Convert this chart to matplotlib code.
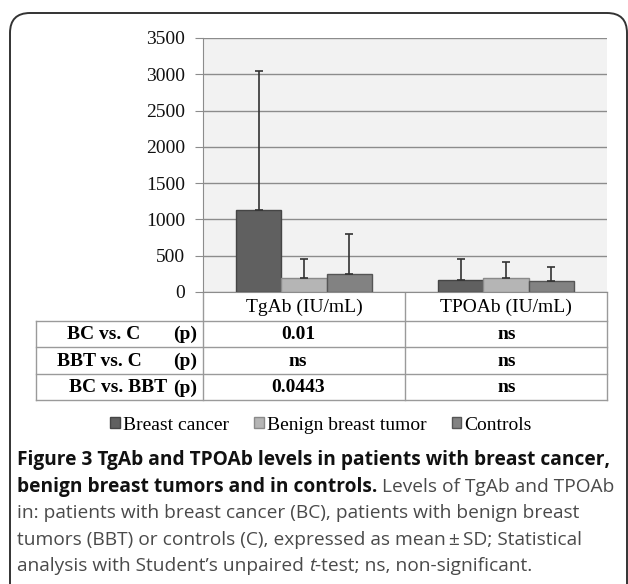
import numpy as np
import matplotlib
matplotlib.use("Agg")
import matplotlib.pyplot as plt
from matplotlib.patches import FancyBboxPatch, Patch

categories = ["TgAb (IU/mL)", "TPOAb (IU/mL)"]
groups = ["Breast cancer", "Benign breast tumor", "Controls"]
means = {
    "Breast cancer": [1125, 160],
    "Benign breast tumor": [195, 195],
    "Controls": [245, 145],
}
sds = {
    "Breast cancer": [1915, 300],
    "Benign breast tumor": [265, 218],
    "Controls": [558, 200],
}
row_labels = ["BC vs. C", "BBT vs. C", "BC vs. BBT"]
p_tgab = ["0.01", "ns", "0.0443"]
p_tpoab = ["ns", "ns", "ns"]

colors = ["#606060", "#b5b5b5", "#828282"]
edges = ["#454545", "#8a8a8a", "#555555"]

W, H = 628, 584
fig = plt.figure(figsize=(W / 100, H / 100), dpi=100)
serif = "Liberation Serif"
sans = "Open Sans"

# overlay in pixel coords for box, table, caption
ov = fig.add_axes([0, 0, 1, 1])
ov.set_xlim(0, W)
ov.set_ylim(H, 0)
ov.axis("off")
ov.add_patch(FancyBboxPatch((10, 13), 617, 600, boxstyle="round,pad=0,rounding_size=20",
                            fc="white", ec="#333333", lw=1.4, zorder=0))

# bar chart
ax = fig.add_axes([203 / W, 1 - 292 / H, 404 / W, 254 / H])
ax.set_facecolor("#f2f2f2")
x = np.arange(len(categories))
bw = 0.223
for i, g in enumerate(groups):
    ax.bar(x + (i - 1) * bw, means[g], bw, color=colors[i], edgecolor=edges[i], lw=1,
           yerr=[np.zeros(len(categories)), sds[g]], capsize=3,
           error_kw=dict(ecolor="#333333", elinewidth=1.2, capthick=1.2), zorder=3, label=g)
ax.set_xlim(-0.5, 1.5)
ax.set_ylim(0, 3500)
ax.set_yticks(np.arange(0, 3501, 500))
ax.yaxis.grid(True, color="#8c8c8c", lw=1)
ax.set_axisbelow(True)
for s in ["top", "right"]:
    ax.spines[s].set_visible(False)
ax.spines["left"].set_color("#8c8c8c")
ax.spines["bottom"].set_color("#8c8c8c")
ax.tick_params(axis="y", length=6, color="#8c8c8c", labelsize=14, pad=7, labelcolor="#111111")
ax.tick_params(axis="x", length=0, labelsize=14, pad=5)
ax.set_xticks(x)
ax.set_xticklabels(categories)
for lab in ax.get_xticklabels() + ax.get_yticklabels():
    lab.set_fontfamily(serif)

# table
lc = "#9a9a9a"
rows_y = [320.5, 346.7, 374, 400]
for yy in rows_y:
    ov.plot([36, 607], [yy, yy], color=lc, lw=1)
ov.plot([36, 36], [rows_y[0], rows_y[-1]], color=lc, lw=1)
for xx in [203, 405, 607]:
    ov.plot([xx, xx], [292, rows_y[-1]], color=lc, lw=1)
label_right = [140, 142, 167]
for r, lab in enumerate(row_labels):
    yc = (rows_y[r] + rows_y[r + 1]) / 2 + 1
    ov.text(label_right[r], yc, lab, ha="right", va="center", fontsize=14,
            fontweight="bold", family=serif)
    ov.text(197, yc, "(p)", ha="right", va="center", fontsize=14, fontweight="bold", family=serif)
    ov.text(298, yc, p_tgab[r], ha="center", va="center", fontsize=14, fontweight="bold", family=serif)
    ov.text(507, yc, p_tpoab[r], ha="center", va="center", fontsize=14, fontweight="bold", family=serif)

# legend
handles = [Patch(facecolor=colors[i], edgecolor=edges[i]) for i in range(3)]
fig.legend(handles, groups, loc="center", bbox_to_anchor=(321 / W, 1 - 425 / H), ncol=3,
           frameon=False, handlelength=0.5, handleheight=0.5, handletextpad=0.15,
           columnspacing=1.3, borderpad=0, prop={"family": serif, "size": 14})

# caption
fig.canvas.draw()
rend = fig.canvas.get_renderer()
inv = ov.transData.inverted()


def chain(x0, y0, parts):
    xx = x0
    for txt, kw in parts:
        t = ov.text(xx, y0, txt, va="center", ha="left", family=sans, fontsize=13.8, **kw)
        bb = t.get_window_extent(rend)
        xx = inv.transform((bb.x1, bb.y0))[0]


bold = dict(fontweight="bold", color="#111111")
reg = dict(color="#4a4a4a")
ital = dict(color="#4a4a4a", style="italic")
chain(17, 460, [("Figure 3 TgAb and TPOAb levels in patients with breast cancer,", bold)])
chain(17, 487, [("benign breast tumors and in controls.", bold), (" Levels of TgAb and TPOAb", reg)])
chain(17, 513, [("in: patients with breast cancer (BC), patients with benign breast", reg)])
chain(17, 540, [("tumors (BBT) or controls (C), expressed as mean\u2009\u00b1\u2009SD; Statistical", reg)])
chain(17, 566, [("analysis with Student\u2019s unpaired ", reg), ("t", ital), ("-test; ns, non-significant.", reg)])

fig.savefig("out.png", dpi=100)
